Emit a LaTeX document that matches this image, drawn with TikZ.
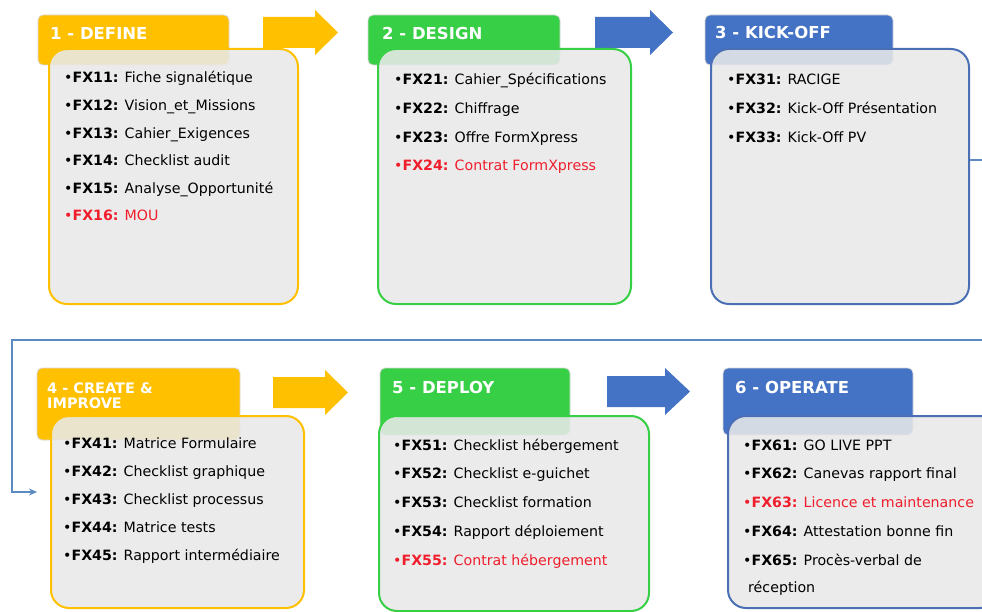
\documentclass[tikz,border=0pt]{standalone}
\usepackage{fontspec}
\setmainfont{DejaVu Sans}
\usetikzlibrary{arrows.meta}
\definecolor{fxyellow}{HTML}{FFC000}
\definecolor{fxgreen}{HTML}{36CF45}
\definecolor{fxblue}{HTML}{4472C4}
\definecolor{fxboxblue}{HTML}{4A6FB5}
\definecolor{fxline}{HTML}{5B8BC0}
\definecolor{fxred}{HTML}{F01E2C}
\definecolor{fxfill}{HTML}{E9E9E9}
\newcommand\fxit[2]{•\textbf{FX#1:} #2}
\tikzset{
  tabbox/.style={draw=gray!30, line width=0.8pt, rounded corners=5pt},
  panel/.style={line width=2pt, rounded corners=18pt, fill=fxfill, fill opacity=0.88, inner sep=0pt, anchor=north west},
  headtext/.style={anchor=base west, text=white, font=\bfseries\fontsize{16.5}{18}\selectfont, inner sep=0pt},
  itemtext/.style={anchor=base west, font=\fontsize{14.2}{16}\selectfont, inner sep=0pt},
  reditem/.style={itemtext, text=fxred},
  conn/.style={draw=fxline, line width=2.3pt, -{Stealth[length=8pt,width=7pt]}},
}
\begin{document}
\begin{tikzpicture}[x=1pt,y=-1pt]
\useasboundingbox (0,0) rectangle (982,612);
\clip (0,0) rectangle (982,612);
\fill[white] (0,0) rectangle (982,612);

% block arrows
\fill[fxyellow] (263,17) -- (315,17) -- (315,10) -- (338,32.5) -- (315,55) -- (315,48) -- (263,48) -- cycle;
\fill[fxblue] (595,17) -- (650,17) -- (650,10) -- (673,32.5) -- (650,55) -- (650,48) -- (595,48) -- cycle;
\fill[fxyellow] (273,377) -- (325,377) -- (325,370) -- (348,392.5) -- (325,415) -- (325,408) -- (273,408) -- cycle;
\fill[fxblue] (607,376) -- (665,376) -- (665,368) -- (690,391.5) -- (665,415) -- (665,407) -- (607,407) -- cycle;

% tabs
\filldraw[tabbox, fill=fxyellow] (38,15) rectangle (229,65);
\filldraw[tabbox, fill=fxgreen] (368,15) rectangle (560,65);
\filldraw[tabbox, fill=fxblue] (705,15) rectangle (893,65);
\filldraw[tabbox, fill=fxyellow] (37,368) rectangle (240,440);
\filldraw[tabbox, fill=fxgreen] (380,368) rectangle (570,435);
\filldraw[tabbox, fill=fxblue] (723,368) rectangle (913,435);

% panels
\node[panel, draw=fxyellow, minimum width=249pt, minimum height=255pt] (p1) at (48,48) {};
\node[panel, draw=fxgreen, minimum width=253pt, minimum height=255pt] (p2) at (377,48) {};
\node[panel, draw=fxboxblue, minimum width=258pt, minimum height=255pt] (p3) at (710,48) {};
\node[panel, draw=fxyellow, minimum width=253pt, minimum height=192pt] (p4) at (50,415) {};
\node[panel, draw=fxgreen, minimum width=270pt, minimum height=195pt] (p5) at (378,415) {};
\node[panel, draw=fxboxblue, minimum width=270pt, minimum height=192pt] (p6) at (727,415) {};

% headers
\node[headtext] (h1) at (50,40) {1 - DEFINE};
\node[headtext] (h2) at (382,40) {2 - DESIGN};
\node[headtext] (h3) at (715,39) {3 - KICK-OFF};
\node[headtext, font=\bfseries\fontsize{14.5}{15}\selectfont] (h4a) at (47,393) {4 - CREATE \&};
\node[headtext, font=\bfseries\fontsize{14.5}{15}\selectfont] (h4b) at (47,408) {IMPROVE};
\node[headtext] (h5) at (392,393) {5 - DEPLOY};
\node[headtext] (h6) at (735,393) {6 - OPERATE};

% box 1
\node[itemtext] (i11) at (64,83) {\fxit{11}{Fiche signalétique}};
\node[itemtext] (i12) at (64,110.6) {\fxit{12}{Vision\_et\_Missions}};
\node[itemtext] (i13) at (64,138.2) {\fxit{13}{Cahier\_Exigences}};
\node[itemtext] (i14) at (64,165.8) {\fxit{14}{Checklist audit}};
\node[itemtext] (i15) at (64,193.4) {\fxit{15}{Analyse\_Opportunité}};
\node[reditem] (i16) at (64,221) {\fxit{16}{MOU}};

% box 2
\node[itemtext] (i21) at (394,85) {\fxit{21}{Cahier\_Spécifications}};
\node[itemtext] (i22) at (394,113.7) {\fxit{22}{Chiffrage}};
\node[itemtext] (i23) at (394,142.4) {\fxit{23}{Offre FormXpress}};
\node[reditem] (i24) at (394,171) {\fxit{24}{Contrat FormXpress}};

% box 3
\node[itemtext] (i31) at (727,85) {\fxit{31}{RACIGE}};
\node[itemtext] (i32) at (727,113.7) {\fxit{32}{Kick-Off Présentation}};
\node[itemtext] (i33) at (727,142.4) {\fxit{33}{Kick-Off PV}};

% box 4
\node[itemtext] (i41) at (63,448) {\fxit{41}{Matrice Formulaire}};
\node[itemtext] (i42) at (63,476) {\fxit{42}{Checklist graphique}};
\node[itemtext] (i43) at (63,504) {\fxit{43}{Checklist processus}};
\node[itemtext] (i44) at (63,532) {\fxit{44}{Matrice tests}};
\node[itemtext] (i45) at (63,560) {\fxit{45}{Rapport intermédiaire}};

% box 5
\node[itemtext] (i51) at (393,450) {\fxit{51}{Checklist hébergement}};
\node[itemtext] (i52) at (393,478.8) {\fxit{52}{Checklist e-guichet}};
\node[itemtext] (i53) at (393,507.6) {\fxit{53}{Checklist formation}};
\node[itemtext] (i54) at (393,536.4) {\fxit{54}{Rapport déploiement}};
\node[reditem] (i55) at (393,565.2) {\fxit{55}{Contrat hébergement}};

% box 6
\node[itemtext] (i61) at (743,450) {\fxit{61}{GO LIVE PPT}};
\node[itemtext] (i62) at (743,478.8) {\fxit{62}{Canevas rapport final}};
\node[reditem] (i63) at (743,507.6) {\fxit{63}{Licence et maintenance}};
\node[itemtext] (i64) at (743,536.4) {\fxit{64}{Attestation bonne fin}};
\node[itemtext] (i65) at (743,565.2) {\fxit{65}{Procès-verbal de}};
\node[itemtext] (i65b) at (748,592.5) {réception};

% connector
\coordinate (r1) at (0,160);
\coordinate (cEnd) at (37,492);
\draw[conn] (p3.east |- r1) -- (1000,160) -- (1000,340) -- (12,340) -- (12,492) -- (cEnd);
\end{tikzpicture}
\end{document}
